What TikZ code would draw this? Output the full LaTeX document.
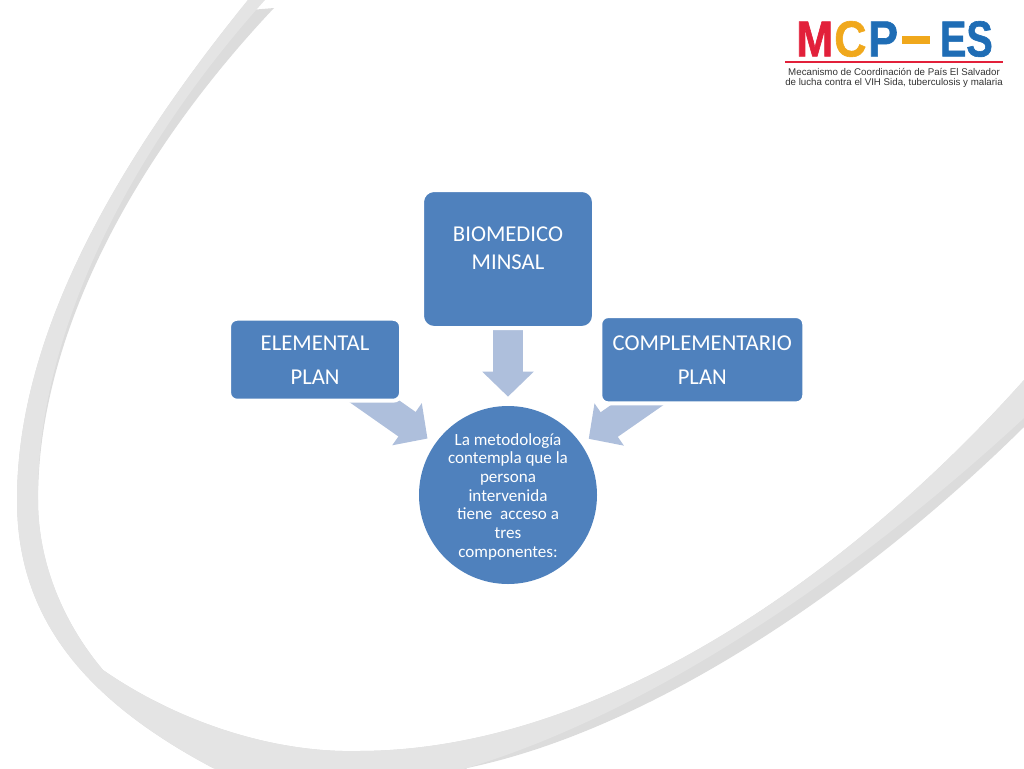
\documentclass[tikz,border=0pt]{standalone}
\usepackage{fontspec}
\setmainfont{Carlito}
\newfontfamily\logofont[FakeStretch=0.88,FakeBold=1.2]{Liberation Sans Bold}
\newfontfamily\logofontes[FakeStretch=0.78,FakeBold=1.2]{Liberation Sans Bold}
\newfontfamily\logosmall{Liberation Sans}
\usetikzlibrary{arrows.meta,positioning,shapes.geometric,backgrounds}
\definecolor{mcpblue}{HTML}{4F81BD}
\definecolor{mcparrow}{HTML}{AEBFDC}
\definecolor{mcplight}{HTML}{E4E4E4}
\definecolor{mcpdark}{HTML}{DCDCDC}
\definecolor{logored}{HTML}{E2203A}
\definecolor{logoorange}{HTML}{F0A81C}
\definecolor{logoblue}{HTML}{1F6DB5}
\tikzset{
  planbox/.style={draw=white, line width=3pt, fill=mcpblue, text=white, align=center,
    outer sep=0pt, inner sep=0pt, font=\fontsize{17}{25.5}\selectfont},
  hub/.style={circle, fill=mcpblue, text=white, align=center, outer sep=0pt, inner sep=0pt,
    minimum size=133.5pt, font=\fontsize{12.8}{14}\selectfont},
  blockarrow/.style={-{Triangle[length=18.75pt,width=37.5pt]}, line width=22.5pt,
    draw=mcparrow, shorten >=7pt},
  logoletters/.style={inner sep=0pt, font=\logofont\fontsize{38}{38}\selectfont},
  logonote/.style={inner sep=0pt, align=center, text=black!80,
    font=\logosmall\fontsize{7.3}{7.5}\selectfont}
}
\begin{document}
\begin{tikzpicture}[x=0.75pt,y=-0.75pt]
        \path[use as bounding box, clip] (0,0) rectangle (1024,768);

        \node[hub, text height=95.5pt] (metodo) at (508,495) {La metodología\\contempla que la\\persona\\intervenida\\tiene\ \ acceso a\\tres\\componentes:};
        \node[planbox, rounded corners=9pt, minimum width=129pt, minimum height=103.5pt,
          above=58.5pt of metodo, text depth=16.5pt, font=\fontsize{17}{21}\selectfont] (biomedico) {BIOMEDICO\\MINSAL};
        \node[planbox, rounded corners=6pt, minimum width=129pt, minimum height=61.5pt,
          above left=23.5pt and 33pt of metodo] (elemental) {ELEMENTAL\\PLAN};
        \node[planbox, rounded corners=6pt, minimum width=153pt, minimum height=65.5pt,
          above right=21.5pt and 22pt of metodo] (complementario) {COMPLEMENTARIO\\PLAN};

        \node[logoletters, text=logored, anchor=west] (logom) at (796,39) {M};
        \node[logoletters, text=logoorange, anchor=west] (logoc) at (834,39) {C};
        \node[logoletters, text=logoblue, anchor=west] (logop) at (868,39) {P};
        \node[logoletters, text=logoblue, anchor=east, font=\logofontes\fontsize{38}{38}\selectfont] (logoes) at (993,39) {ES};
        \node[fill=logoorange, inner sep=0pt, minimum width=21pt, minimum height=6pt] (logodash) at (916,40) {};
        \node[logonote] (logonote) at (894,77.5) {Mecanismo de Coordinación de País El Salvador\\de lucha contra el VIH Sida, tuberculosis y malaria};
        \draw[logored, line width=0.9pt] (785,62) -- (1003,62);

        \begin{scope}[on background layer]
        \fill[mcpdark] (248,0) .. controls (110,170) and (17,340) .. (17,500)
          .. controls (17,610) and (75,695) .. (213,768) -- (300,800) -- (440,800) -- (467,768)
          .. controls (650,730) and (860,589) .. (1024,427) -- (1024,380)
          .. controls (850,575) and (600,751) .. (358,751)
          .. controls (270,753) and (175,720) .. (103,670)
          .. controls (65,625) and (38,565) .. (38,500)
          .. controls (38,330) and (140,150) .. (274,8) -- (250,10) -- cycle;
        \fill[mcplight] (248,0) .. controls (110,170) and (17,340) .. (17,500)
          .. controls (17,610) and (75,695) .. (213,768) -- (300,800) -- (420,800) -- (460,770)
          .. controls (650,715) and (860,570) .. (1024,418) -- (1024,380)
          .. controls (850,575) and (600,751) .. (358,751)
          .. controls (270,753) and (175,720) .. (103,670)
          .. controls (65,625) and (38,565) .. (38,500)
          .. controls (36,335) and (130,150) .. (265,0) -- cycle;
        \draw[blockarrow] (biomedico.center) -- (metodo);
        \draw[blockarrow] (elemental.center) -- (metodo);
        \draw[blockarrow] (complementario.center) -- (metodo);
        \end{scope}
    \end{tikzpicture}
\end{document}
